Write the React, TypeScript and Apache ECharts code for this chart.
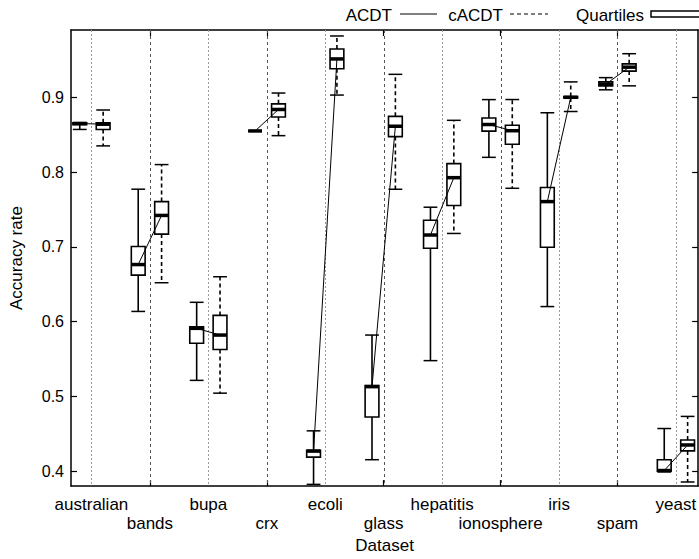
import React, { useEffect, useRef } from "react";
import * as echarts from "echarts";

// ---- data ----
const datasets = [
  "australian", "bands", "bupa", "crx", "ecoli", "glass",
  "hepatitis", "ionosphere", "iris", "spam", "yeast",
];
// [min, q1, median, q3, max] per dataset
const acdtBoxes: number[][] = [
  [0.857, 0.8635, 0.865, 0.866, 0.866],
  [0.6136, 0.6622, 0.6763, 0.7004, 0.7771],
  [0.5214, 0.571, 0.591, 0.593, 0.6258],
  [0.855, 0.855, 0.855, 0.855, 0.855],
  [0.3823, 0.4188, 0.4268, 0.428, 0.4539],
  [0.4153, 0.4724, 0.513, 0.5145, 0.582],
  [0.5478, 0.6982, 0.7158, 0.7355, 0.753],
  [0.8197, 0.8548, 0.8636, 0.8724, 0.8969],
  [0.6201, 0.6995, 0.7605, 0.7793, 0.8793],
  [0.91, 0.9153, 0.9175, 0.9206, 0.9263],
  [0.399, 0.4, 0.4008, 0.4153, 0.457],
];
const cacdtBoxes: number[][] = [
  [0.835, 0.857, 0.864, 0.866, 0.883],
  [0.652, 0.717, 0.742, 0.7605, 0.81],
  [0.5043, 0.5627, 0.582, 0.6083, 0.66],
  [0.8487, 0.8737, 0.8837, 0.8912, 0.9057],
  [0.903, 0.9382, 0.9513, 0.9645, 0.982],
  [0.777, 0.8474, 0.8613, 0.8745, 0.9307],
  [0.7179, 0.7553, 0.7925, 0.8113, 0.8692],
  [0.7783, 0.8372, 0.8553, 0.8627, 0.897],
  [0.881, 0.899, 0.9, 0.901, 0.9206],
  [0.9153, 0.935, 0.9403, 0.9447, 0.9583],
  [0.3855, 0.4271, 0.435, 0.4416, 0.4732],
];
const yTicks = [0.4, 0.5, 0.6, 0.7, 0.8, 0.9];

const FONT = '"Liberation Sans", Arial, Helvetica, sans-serif';
const FS = 17;
const OFFSET = 0.2;
const HALF = 0.118;
const XMIN = 0.65;
const XMAX = 11.38;

const positions = datasets.map((_, i) => i + 1);
const row1 = positions.filter((p) => p % 2 === 1);
const row2 = positions.filter((p) => p % 2 === 0);

function boxRenderer(offset: number, dashed: boolean) {
  return (params: any, api: any) => {
    const pos = api.value(0) + offset;
    const mn = api.value(1), q1 = api.value(2), md = api.value(3), q3 = api.value(4), mx = api.value(5);
    const half = api.size([HALF, 0])[0];
    const cx = api.coord([pos, md])[0];
    const y = (v: number) => api.coord([pos, v])[1];
    const wStyle: any = { stroke: "#000", lineWidth: 1.6, fill: "none" };
    if (dashed) wStyle.lineDash = [4, 3];
    const cStyle = { stroke: "#000", lineWidth: 1.5 };
    return {
      type: "group",
      children: [
        { type: "line", shape: { x1: cx, y1: y(q1), x2: cx, y2: y(mn) }, style: wStyle },
        { type: "line", shape: { x1: cx, y1: y(q3), x2: cx, y2: y(mx) }, style: wStyle },
        { type: "line", shape: { x1: cx - half, y1: y(mn), x2: cx + half, y2: y(mn) }, style: cStyle },
        { type: "line", shape: { x1: cx - half, y1: y(mx), x2: cx + half, y2: y(mx) }, style: cStyle },
        {
          type: "rect",
          shape: { x: cx - half, y: y(q3), width: 2 * half, height: y(q1) - y(q3) },
          style: { fill: "#fff", stroke: "#000", lineWidth: 1.6 },
        },
        { type: "line", shape: { x1: cx - half, y1: y(md), x2: cx + half, y2: y(md) }, style: { stroke: "#000", lineWidth: 3.5 } },
      ],
    };
  };
}

export default function App() {
  const ref = useRef<HTMLDivElement>(null);
  useEffect(() => {
    if (!ref.current) return;
    const chart = echarts.init(ref.current, null, { renderer: "svg" });
    const axisLine = { show: true, lineStyle: { color: "#000", width: 1.5 } };
    const tick = (vals: number[]) => ({
      show: true, inside: true, length: 6, customValues: vals,
      lineStyle: { color: "#000", width: 1.2 },
    });
    const nameLabel = (v: number) => datasets[Math.round(v) - 1] ?? "";
    const legendText = (text: string, x: number) => ({
      type: "text", x, y: 15,
      style: {
        text, textAlign: "right", align: "right", textVerticalAlign: "middle", verticalAlign: "middle",
        font: `${FS}px ${FONT}`, fill: "#000",
      },
    });
    chart.setOption({
      animation: false,
      textStyle: { fontFamily: FONT, color: "#000" },
      grid: { left: 64, top: 30, width: 637, height: 464, containLabel: false },
      xAxis: [
        {
          type: "value", position: "bottom", min: XMIN, max: XMAX,
          axisLine, axisTick: tick(row2), splitLine: { show: false },
          axisLabel: {
            customValues: row1, margin: 10, fontSize: FS, color: "#000", fontFamily: FONT,
            hideOverlap: false, showMinLabel: true, showMaxLabel: true, formatter: nameLabel,
          },
        },
        {
          type: "value", position: "top", min: XMIN, max: XMAX,
          axisLine, axisTick: tick(row2), axisLabel: { show: false }, splitLine: { show: false },
        },
        {
          type: "value", position: "bottom", offset: 19, min: XMIN, max: XMAX,
          axisLine: { show: false }, axisTick: { show: false }, splitLine: { show: false },
          axisLabel: {
            customValues: row2, margin: 10, fontSize: FS, color: "#000", fontFamily: FONT,
            hideOverlap: false, showMinLabel: true, showMaxLabel: true, formatter: nameLabel,
          },
          name: "Dataset", nameLocation: "middle", nameGap: 29,
          nameTextStyle: { fontSize: FS, color: "#000", fontFamily: FONT },
        },
      ],
      yAxis: [
        {
          type: "value", position: "left", min: 0.38, max: 0.99,
          axisLine, axisTick: tick(yTicks), splitLine: { show: false },
          axisLabel: {
            customValues: yTicks, margin: 7, fontSize: 16, color: "#000", fontFamily: FONT,
            formatter: (v: number) => v.toFixed(1),
          },
          name: "Accuracy rate", nameLocation: "middle", nameGap: 46, nameRotate: 90,
          nameTextStyle: { fontSize: FS, color: "#000", fontFamily: FONT },
        },
        {
          type: "value", position: "right", min: 0.38, max: 0.99,
          axisLine, axisTick: tick(yTicks), axisLabel: { show: false }, splitLine: { show: false },
        },
      ],
      series: [
        {
          type: "custom", name: "grid", xAxisIndex: 0, yAxisIndex: 0, z: 1,
          data: positions.map((p) => [p, p % 2]),
          renderItem: (params: any, api: any) => {
            const cs = params.coordSys;
            const x = Math.round(api.coord([api.value(0), 0.5])[0]) + 0.5;
            const odd = api.value(1) === 1;
            return {
              type: "line",
              shape: { x1: x, y1: cs.y, x2: x, y2: cs.y + cs.height },
              style: { stroke: odd ? "#9a9a9a" : "#555", lineWidth: 1, lineDash: odd ? [2, 2] : [3, 3] },
            };
          },
        },
        {
          type: "custom", name: "ACDT", z: 2, xAxisIndex: 0, yAxisIndex: 0,
          data: acdtBoxes.map((b, i) => [i + 1, ...b]),
          renderItem: boxRenderer(-OFFSET, false),
        },
        {
          type: "custom", name: "cACDT", z: 2, xAxisIndex: 0, yAxisIndex: 0,
          data: cacdtBoxes.map((b, i) => [i + 1, ...b]),
          renderItem: boxRenderer(OFFSET, true),
        },
        {
          type: "custom", name: "links", z: 3, xAxisIndex: 0, yAxisIndex: 0,
          data: positions.map((p, i) => [p, acdtBoxes[i][2], cacdtBoxes[i][2]]),
          renderItem: (params: any, api: any) => {
            const p = api.value(0);
            const a = api.coord([p - OFFSET, api.value(1)]);
            const c = api.coord([p + OFFSET, api.value(2)]);
            return {
              type: "line",
              shape: { x1: a[0], y1: a[1], x2: c[0], y2: c[1] },
              style: { stroke: "#000", lineWidth: 1 },
            };
          },
        },
      ],
      graphic: [
        legendText("ACDT", 392),
        { type: "line", shape: { x1: 400, y1: 14, x2: 437, y2: 14 }, style: { stroke: "#000", lineWidth: 1.2 } },
        legendText("cACDT", 503),
        { type: "line", shape: { x1: 510, y1: 14, x2: 548, y2: 14 }, style: { stroke: "#000", lineWidth: 1.2, lineDash: [4, 3] } },
        legendText("Quartiles", 644),
        { type: "rect", shape: { x: 651, y: 11, width: 55, height: 6 }, style: { fill: "#fff", stroke: "#000", lineWidth: 1.5 } },
      ],
    });
    return () => chart.dispose();
  }, []);
  return (
    <div
      ref={ref}
      style={{ position: "fixed", left: 0, top: 0, width: 699, height: 559, background: "#fff" }}
    />
  );
}
